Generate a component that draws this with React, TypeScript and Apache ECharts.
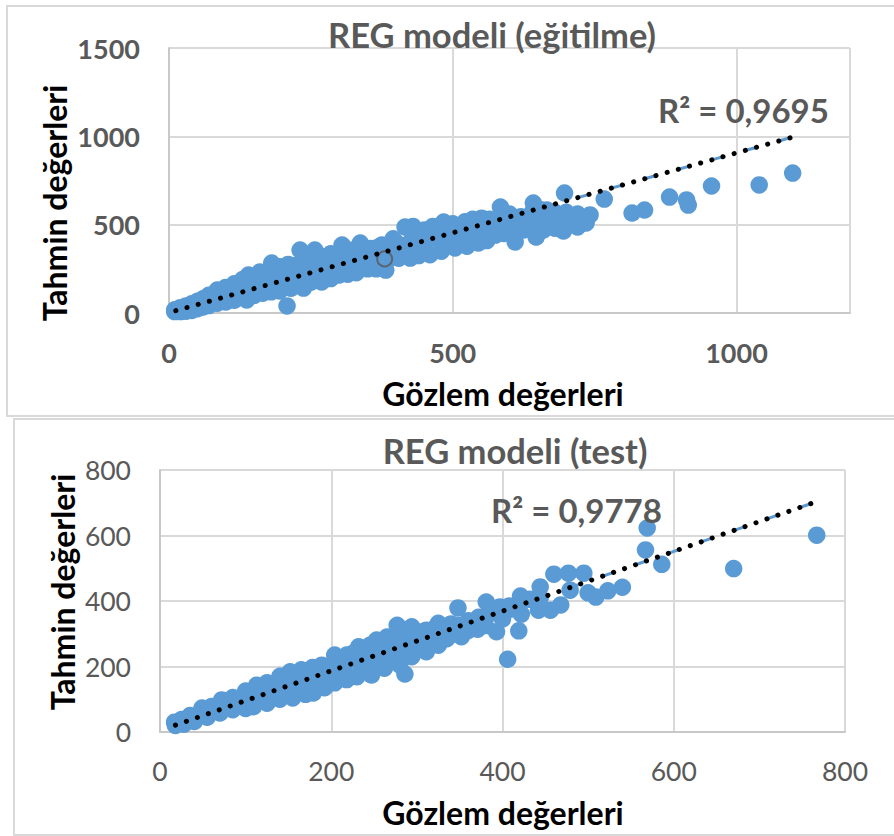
import React, { useEffect, useRef } from "react";
import * as echarts from "echarts";

const trainUpper = [[10,18],[20,30],[30,40],[40,52],[50,66],[60,80],[70,100],[85,130],[100,145],[115,165],[130,190],[140,215],[160,232],[181,283],[195,262],[210,275],[231,356],[245,310],[257,356],[270,320],[285,335],[305,385],[320,355],[337,396],[355,365],[375,385],[395,420],[416,487],[430,490],[450,470],[465,490],[484,515],[500,505],[522,517],[535,530],[551,537],[565,530],[584,600],[600,560],[620,545],[642,622],[655,585],[666,583],[680,570],[697,679],[700,570],[720,560],[742,555]];
const trainLower = [[10,8],[20,8],[30,10],[40,14],[50,24],[60,34],[70,42],[85,55],[100,62],[115,72],[137,74],[150,100],[165,112],[180,120],[195,125],[208,40],[215,140],[237,141],[250,175],[269,176],[285,195],[300,215],[315,220],[330,228],[350,250],[365,250],[382,243],[405,310],[425,311],[440,325],[460,330],[480,350],[504,368],[525,378],[545,396],[560,410],[575,441],[590,450],[610,402],[625,470],[647,430],[660,470],[680,480],[695,464],[720,487],[735,510]];
const trainMiddle = [[20,20],[35,32],[50,45],[65,60],[80,75],[95,90],[110,105],[125,115],[140,130],[155,150],[170,165],[185,180],[200,190],[215,205],[230,225],[245,240],[260,250],[275,265],[290,275],[305,290],[320,305],[335,315],[350,325],[365,335],[380,345],[395,365],[410,380],[425,400],[440,410],[455,415],[470,430],[485,450],[500,440],[515,455],[530,465],[545,475],[560,490],[575,510],[590,520],[605,510],[620,520],[635,540],[650,525],[665,530],[680,530],[700,520],[715,525],[735,535]];
const trainUpperMid = [[120,150],[150,190],[170,215],[200,235],[225,270],[250,285],[280,305],[310,335],[340,355],[370,375],[400,400],[430,440],[460,450],[490,480],[520,490],[550,505],[610,540],[640,570],[660,550]];
const trainLowerMid = [[130,105],[160,130],[190,155],[225,175],[260,205],[300,255],[330,270],[360,290],[390,310],[420,345],[450,365],[480,395],[510,405],[540,430],[570,460],[600,475],[630,495],[610,450],[650,490],[675,505],[710,500]];
const trainOutliers = [[767,645],[816,566],[838,583],[882,656],[912,640],[915,611],[956,719],[1040,725],[1099,792]];
const trainTrend = [[12,13],[1095,992]];
const trainDarkRing = [[380,306]];
const trainLightRing = [[647,430]];

const testUpper = [[17,30],[25,38],[35,50],[49,73],[60,78],[72,98],[85,105],[100,125],[113,143],[125,150],[140,170],[152,184],[165,190],[178,197],[189,204],[204,235],[218,235],[232,260],[245,265],[253,281],[265,290],[277,326],[294,321],[311,311],[325,332],[337,325],[348,379],[360,335],[381,397],[397,382],[409,375],[421,415],[444,443],[460,482],[477,485],[495,485]];
const testLower = [[18,20],[28,24],[40,32],[55,45],[70,58],[85,68],[100,72],[109,77],[125,88],[140,100],[155,104],[170,115],[179,119],[192,135],[204,150],[218,160],[230,169],[247,174],[262,195],[280,205],[286,177],[294,230],[311,245],[325,265],[335,285],[352,291],[371,314],[393,306],[406,222],[419,309],[422,360],[442,372],[456,372],[468,388]];
const testMiddle = [[24,30],[36,40],[48,52],[60,62],[72,75],[84,85],[96,95],[108,108],[120,118],[132,130],[144,140],[156,152],[168,165],[180,175],[192,185],[204,195],[216,208],[228,220],[240,230],[252,240],[264,255],[276,265],[288,275],[300,285],[312,295],[324,305],[336,315],[348,325],[360,340],[372,350],[384,360],[396,370],[408,385],[420,395],[432,405],[444,410],[479,433],[500,425],[509,412],[523,431],[540,442]];
const testUpperMid = [[130,145],[150,165],[170,180],[190,195],[210,215],[225,240],[240,250],[260,265],[275,285],[290,295],[305,305],[320,315],[340,330]];
const testLowerMid = [[130,110],[150,125],[165,135],[180,148],[195,160],[215,180],[235,195],[250,205],[265,225],[280,240],[300,260],[315,275],[330,285],[345,300],[360,310],[380,325],[400,345]];
const testOutliers = [[569,623],[567,556],[586,512],[670,499],[767,601]];
const testTrend = [[18,21],[762,699]];

const blue = "#5B9BD5";
const grid = "#D9D9D9";
const labelGray = "#595959";
const font = "Lato";

function axis(max: number, interval: number, fontWeight: string, fontSize: number, margin: number, showMaxLabel = true) {
  return {
    type: "value", min: 0, max, interval,
    axisLine: { show: true, onZero: false, lineStyle: { color: "#C8C8C8", width: 2 } },
    axisTick: { show: false },
    axisLabel: { color: labelGray, fontFamily: font, fontWeight, fontSize, margin, showMaxLabel, formatter: (v: number) => String(v) },
    splitLine: { show: true, lineStyle: { color: grid, width: 2 } },
  };
}

function seriesFor(i: number, pts: number[][], trend: number[][]) {
  return [
    { type: "scatter", xAxisIndex: i, yAxisIndex: i, data: pts, symbolSize: 17.5, itemStyle: { color: blue, opacity: 1 } },
    { type: "line", xAxisIndex: i, yAxisIndex: i, data: trend, symbol: "none", z: 3, lineStyle: { color: blue, width: 3, type: [10, 24.8] } },
    { type: "line", xAxisIndex: i, yAxisIndex: i, data: trend, symbol: "none", z: 4, lineStyle: { color: "#000", width: 5, cap: "round", type: [0.1, 11.5] } },
  ];
}

export default function App() {
  const ref = useRef<HTMLDivElement>(null);
  useEffect(() => {
    const chart = echarts.init(ref.current!, undefined, { renderer: "svg" });
    const frame = (x: number, y: number, w: number, h: number) => ({
      type: "rect", silent: true, z: -1, shape: { x, y, width: w, height: h },
      style: { fill: "#fff", stroke: "#D9D9D9", lineWidth: 2 },
    });
    const label = (x: number, y: number, text: string, fill: string, fontSize: number, align = "center", rotation = 0) => ({
      type: "text", z: 20, x, y, rotation,
      style: { text, fill, fontFamily: font, fontWeight: "bold", fontSize, align, verticalAlign: "middle" },
    });
    chart.setOption({
      animation: false,
      backgroundColor: "#fff",
      grid: [
        { left: 169, top: 48, width: 681, height: 265 },
        { left: 160, top: 470, width: 685, height: 262 },
      ],
      xAxis: [axis(1200, 500, "bold", 27, 26, false), axis(800, 200, "normal", 26.5, 25)].map((a, i) => ({ ...a, gridIndex: i })),
      yAxis: [axis(1500, 500, "bold", 27, 29), axis(800, 200, "normal", 26.5, 29)].map((a, i) => ({ ...a, gridIndex: i })),
      series: [
        { type: "scatter", xAxisIndex: 0, yAxisIndex: 0, data: trainLightRing, symbolSize: 15, z: 1, itemStyle: { color: "transparent", borderColor: "#BFBFBF", borderWidth: 2 } },
        ...seriesFor(0, [...trainUpper, ...trainLower, ...trainMiddle, ...trainUpperMid, ...trainLowerMid, ...trainOutliers], trainTrend),
        { type: "scatter", xAxisIndex: 0, yAxisIndex: 0, data: trainDarkRing, symbolSize: 15, z: 3, itemStyle: { color: "transparent", borderColor: "#595959", borderWidth: 2 } },
        ...seriesFor(1, [...testUpper, ...testLower, ...testMiddle, ...testUpperMid, ...testLowerMid, ...testOutliers], testTrend),
      ],
      graphic: [
        frame(7, 6, 900, 410),
        frame(14, 419, 900, 416),
        label(492, 34, "REG modeli (eğitilme)", labelGray, 34.5),
        label(515, 450, "REG modeli (test)", labelGray, 34.5),
        label(658, 110, "R² = 0,9695", labelGray, 33, "left"),
        label(491, 510, "R² = 0,9778", labelGray, 33, "left"),
        label(503, 393, "Gözlem değerleri", "#000", 32),
        label(503, 812, "Gözlem değerleri", "#000", 32),
        label(54, 203, "Tahmin değerleri", "#000", 32, "center", Math.PI / 2),
        label(62, 592, "Tahmin değerleri", "#000", 32, "center", Math.PI / 2),
      ],
    });
    return () => chart.dispose();
  }, []);
  return <div ref={ref} style={{ position: "fixed", left: 0, top: 0, width: 894, height: 836 }} />;
}
